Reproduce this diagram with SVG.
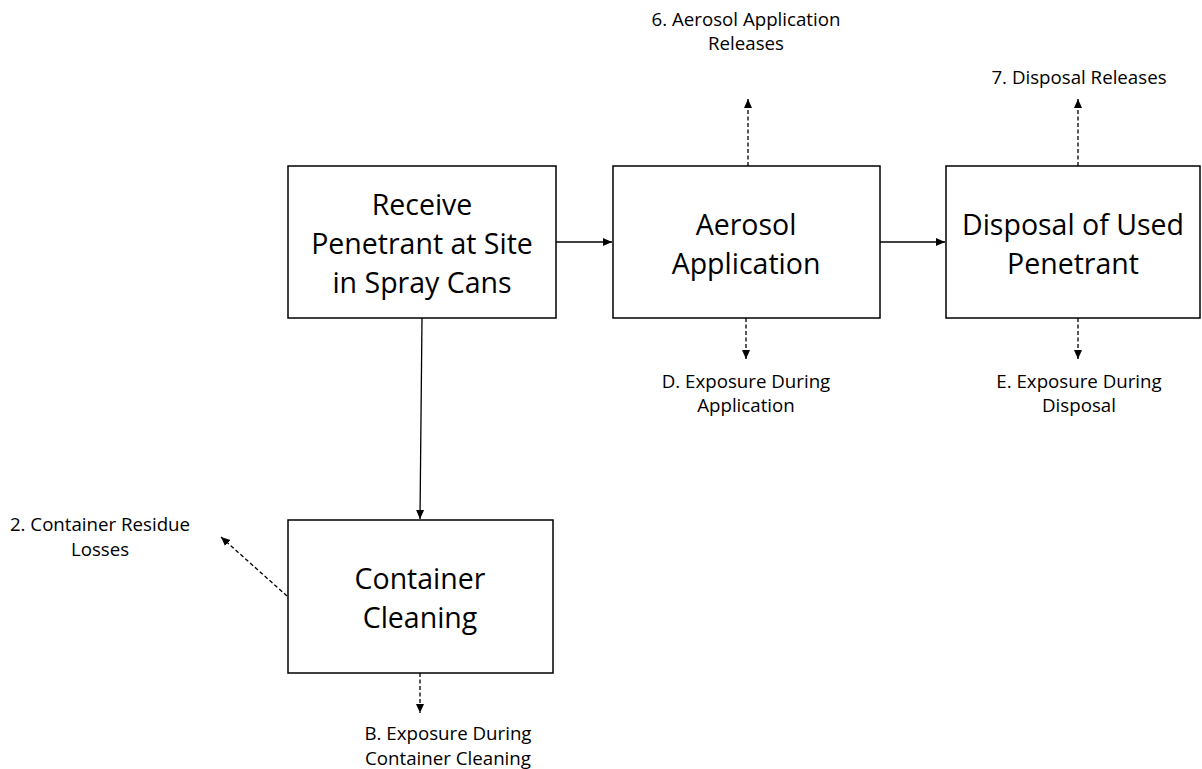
<svg xmlns="http://www.w3.org/2000/svg" width="1202" height="769" viewBox="0 0 1202 769">
<style>
.box{fill:#fff;stroke:#000;stroke-width:1.5}
.big{font-family:"Open Sans","Liberation Sans",sans-serif;font-size:28.5px;fill:#000;text-anchor:middle}
.lbl{font-family:"Open Sans","Liberation Sans",sans-serif;font-size:18.7px;fill:#000;text-anchor:middle}
.solid{stroke:#000;stroke-width:1.3;fill:none;marker-end:url(#ah)}
.dash{stroke:#000;stroke-width:1.3;fill:none;stroke-dasharray:4 2.5;marker-end:url(#ah)}
</style>
<defs>
<marker id="ah" markerWidth="10" markerHeight="10" refX="9" refY="5" orient="auto" markerUnits="userSpaceOnUse">
<path d="M0,1 L9,5 L0,9 Z" fill="#000"/>
</marker>
</defs>
<rect width="1202" height="769" fill="#fff"/>
<g id="connectors">
<line class="solid" x1="556" y1="242" x2="612" y2="242"/>
<line class="solid" x1="880" y1="242" x2="945" y2="242"/>
<line class="solid" x1="422" y1="318" x2="420" y2="519"/>
<line class="dash" x1="748" y1="166" x2="748" y2="99"/>
<line class="dash" x1="1078" y1="166" x2="1078" y2="99"/>
<line class="dash" x1="746" y1="318" x2="746" y2="359"/>
<line class="dash" x1="1078" y1="318" x2="1078" y2="359"/>
<line class="dash" x1="420" y1="673" x2="420" y2="713"/>
<line class="dash" x1="287" y1="596" x2="221" y2="537"/>
</g>
<g id="receive">
<rect class="box" x="288" y="166" width="268" height="152"/>
<text class="big" x="422" y="215">Receive</text>
<text class="big" x="422" y="254">Penetrant at Site</text>
<text class="big" x="422" y="293">in Spray Cans</text>
</g>
<g id="aerosol">
<rect class="box" x="613" y="166" width="267" height="152"/>
<text class="big" x="746" y="235">Aerosol</text>
<text class="big" x="746" y="274">Application</text>
</g>
<g id="disposal">
<rect class="box" x="946" y="166" width="254" height="152"/>
<text class="big" x="1073" y="235">Disposal of Used</text>
<text class="big" x="1073" y="274">Penetrant</text>
</g>
<g id="cleaning">
<rect class="box" x="288" y="520" width="265" height="153"/>
<text class="big" x="420" y="589">Container</text>
<text class="big" x="420" y="628">Cleaning</text>
</g>
<g id="label-6">
<text class="lbl" x="746" y="26">6. Aerosol Application</text>
<text class="lbl" x="746" y="50">Releases</text>
</g>
<g id="label-7">
<text class="lbl" x="1079" y="84">7. Disposal Releases</text>
</g>
<g id="label-D">
<text class="lbl" x="746" y="388">D. Exposure During</text>
<text class="lbl" x="746" y="412">Application</text>
</g>
<g id="label-E">
<text class="lbl" x="1079" y="388">E. Exposure During</text>
<text class="lbl" x="1079" y="412">Disposal</text>
</g>
<g id="label-2">
<text class="lbl" x="100" y="531">2. Container Residue</text>
<text class="lbl" x="100" y="556">Losses</text>
</g>
<g id="label-B">
<text class="lbl" x="448" y="740">B. Exposure During</text>
<text class="lbl" x="448" y="765">Container Cleaning</text>
</g>
</svg>
